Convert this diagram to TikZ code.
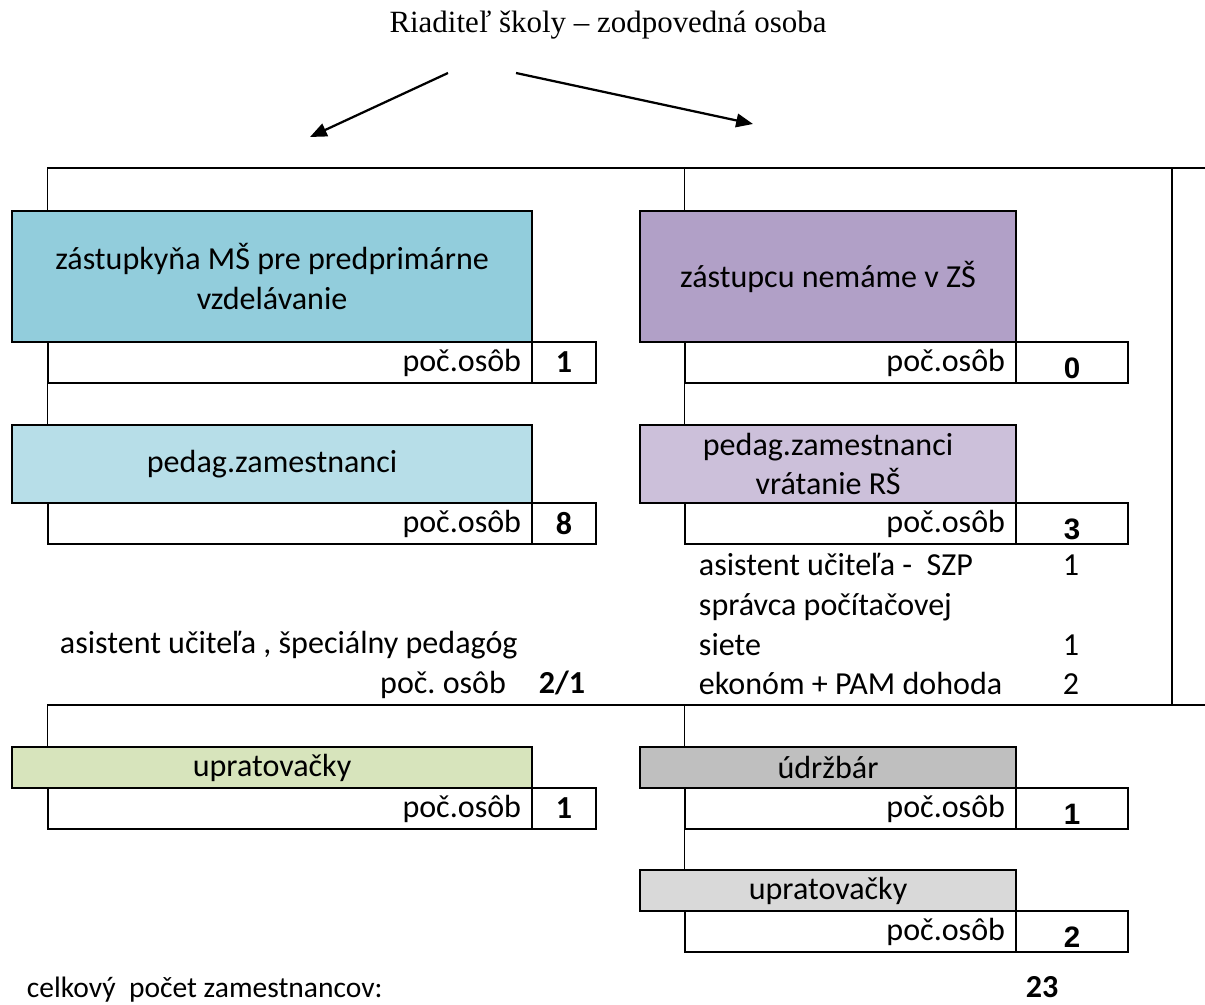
\documentclass[tikz,border=0pt]{standalone}
\usepackage{fontspec}
\setmainfont{Carlito}
\newfontfamily\titlefont{Liberation Serif}
\newfontfamily\numfont{Liberation Sans}
\usetikzlibrary{arrows.meta}
\frenchspacing

\definecolor{msfill}{HTML}{92CDDC}
\definecolor{pedL}{HTML}{B7DEE8}
\definecolor{zsfill}{HTML}{B1A0C7}
\definecolor{pedR}{HTML}{CCC0DA}
\definecolor{upL}{HTML}{D7E4BC}
\definecolor{udr}{HTML}{BFBFBF}
\definecolor{upR}{HTML}{D9D9D9}

\begin{document}
\begin{tikzpicture}[x=0.025cm, y=-0.025cm, font=\fontsize{22.8}{28}\selectfont,
    hd/.style={draw, line width=1.4pt, anchor=north west, align=center, inner sep=0pt},
    cntL/.style={draw, line width=1.4pt, anchor=north west, inner sep=0pt, minimum width=12.1cm, minimum height=1.025cm, text width=11.55cm, align=right},
    cntR/.style={draw, line width=1.4pt, anchor=north west, inner sep=0pt, minimum width=8.275cm, minimum height=1.025cm, text width=7.725cm, align=right},
    numL/.style={draw, line width=1.4pt, anchor=north west, inner sep=0pt, minimum width=1.6cm, minimum height=1.025cm, font=\fontsize{22.8}{28}\selectfont\bfseries},
    numR/.style={draw, line width=1.4pt, anchor=north west, inner sep=0pt, minimum width=2.8cm, minimum height=1.025cm, text height=0.8cm, text depth=0pt, font=\numfont\fontsize{21}{24}\selectfont\bfseries},
    conn/.style={line width=0.7pt},
    rule/.style={line width=1.4pt}]
    \useasboundingbox (0,0) rectangle (1205,1005);

    % head
    \node[font=\titlefont\fontsize{22}{26}\selectfont, anchor=base] (tt) at (608,33) {Riaditeľ školy – zodpovedná osoba};
    \coordinate (a1) at (448,73); \coordinate (a1e) at (310,137);
    \coordinate (a2) at (516,73); \coordinate (a2e) at (753,124);
    \draw[line width=1.6pt, -{Triangle[length=0.42cm, width=0.34cm]}] (a1) -- (a1e);
    \draw[line width=1.6pt, -{Triangle[length=0.42cm, width=0.34cm]}] (a2) -- (a2e);

    % lines
    \coordinate (tl) at (47,168); \coordinate (tr) at (1205,168);
    \coordinate (ml) at (47,705); \coordinate (mr) at (1205,705);
    \coordinate (tm) at (684,168); \coordinate (mm) at (684,705);
    \coordinate (rv) at (1172,168);
    \draw[rule] (tl) -- (tr);
    \draw[rule] (ml) -- (mr);
    \draw[rule] (rv) -- (rv |- ml);

    % left column
    \node[hd, fill=msfill, minimum width=13cm, minimum height=3.275cm] (ms) at (11,210) {zástupkyňa MŠ pre predprimárne\\vzdelávanie};
    \node[cntL] (msC) at (47,341) {poč.osôb};
    \node[numL] (msN) at (531,341) {1};
    \node[hd, fill=pedL, minimum width=13cm, minimum height=1.95cm] (pl) at (11,424) {pedag.zamestnanci};
    \node[cntL] (plC) at (47,502) {poč.osôb};
    \node[numL] (plN) at (531,502) {8};
    \node[anchor=base west] (asL) at (55,653) {asistent učiteľa , špeciálny pedagóg};
    \node[anchor=base east] (asC) at (511,693) {poč. osôb};
    \node[anchor=base, font=\fontsize{22.8}{28}\selectfont\bfseries] (asN) at (562,693) {2/1};
    \node[hd, fill=upL, minimum width=13cm, minimum height=1.025cm] (ul) at (11,746) {upratovačky};
    \node[cntL] (ulC) at (47,787) {poč.osôb};
    \node[numL] (ulN) at (531,787) {1};

    \draw[conn] (tl) -- (tl |- ms.north);
    \draw[conn] (msC.south west) -- (msC.south west |- pl.north);
    \draw[conn] (ml) -- (ml |- ul.north);

    % right column
    \node[hd, fill=zsfill, minimum width=9.4cm, minimum height=3.275cm] (zs) at (639,210) {zástupcu nemáme v ZŠ};
    \node[cntR] (zsC) at (684,341) {poč.osôb};
    \node[numR] (zsN) at (1015,341) {0};
    \node[hd, fill=pedR, minimum width=9.4cm, minimum height=1.95cm] (pr) at (639,424) {pedag.zamestnanci\\vrátanie RŠ};
    \node[cntR] (prC) at (684,502) {poč.osôb};
    \node[numR] (prN) at (1015,502) {3};
    \node[anchor=base west] (r1) at (694,575) {asistent učiteľa -\ \ SZP};
    \node[anchor=base west] (r2) at (694,615) {správca počítačovej};
    \node[anchor=base west] (r3) at (694,655) {siete};
    \node[anchor=base west] (r4) at (694,694) {ekonóm + PAM dohoda};
    \node[anchor=base] (r1N) at (1071,575) {1};
    \node[anchor=base] (r3N) at (1071,655) {1};
    \node[anchor=base] (r4N) at (1071,694) {2};
    \node[hd, fill=udr, minimum width=9.4cm, minimum height=1.025cm] (ud) at (639,746) {údržbár};
    \node[cntR] (udC) at (684,787) {poč.osôb};
    \node[numR] (udN) at (1015,787) {1};
    \node[hd, fill=upR, minimum width=9.4cm, minimum height=1.025cm] (ur) at (639,869) {upratovačky};
    \node[cntR] (urC) at (684,910) {poč.osôb};
    \node[numR] (urN) at (1015,910) {2};

    \draw[conn] (tm) -- (tm |- zs.north);
    \draw[conn] (zsC.south west) -- (zsC.south west |- pr.north);
    \draw[conn] (mm) -- (mm |- ud.north);
    \draw[conn] (udC.south west) -- (udC.south west |- ur.north);

    % total
    \node[anchor=base west, font=\fontsize{21}{26}\selectfont] (tot) at (22,997) {celkový\ \ počet zamestnancov:};
    \node[anchor=base, font=\fontsize{22.8}{28}\selectfont\bfseries] (totN) at (1042,997) {23};
\end{tikzpicture}
\end{document}
